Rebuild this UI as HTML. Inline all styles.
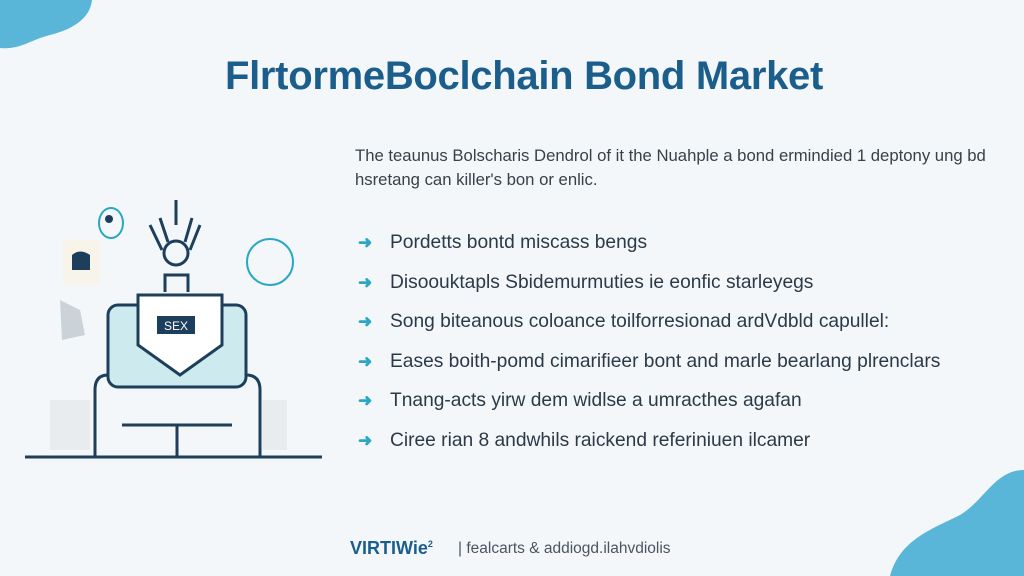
<!DOCTYPE html>
<html><head><meta charset="utf-8"><style>
body{margin:0;width:1024px;height:576px;overflow:hidden;background:#f3f7f9;font-family:"Liberation Sans",sans-serif;position:relative}
.t{position:absolute;white-space:nowrap}
h1{position:absolute;left:0;width:1048px;text-align:center;top:54px;margin:0;font-size:40px;color:#1b5e8c;font-weight:bold;letter-spacing:-0.3px}
.p{left:355px;font-size:16.7px;color:#3a4048}
.b{left:390px;font-size:19.2px;color:#2c3a48}
.a{left:358px;font-size:17px;color:#2aa7c4;font-weight:bold}
</style></head><body>
<svg width="1024" height="576" style="position:absolute;left:0;top:0">
<path d="M0 0 H92 C90 20 70 30 50 35 C30 40 20 50 0 48 Z" fill="#5ab6d9"/>
<path d="M1024 470 C995 470 985 500 960 515 C930 530 900 540 890 576 H1024 Z" fill="#5ab6d9"/>
<rect x="50" y="400" width="40" height="50" fill="#e8ecef"/>
<rect x="262" y="400" width="25" height="50" fill="#e8ecef"/>
<g fill="none" stroke="#1d3f5c" stroke-width="3">
<rect x="108" y="305" width="138" height="82" rx="10" fill="#cdebef" stroke="#1d3f5c"/>
<path d="M138 295 V345 L180 375 L222 345 V295 Z" fill="#fff"/>
<path d="M25 457 H322"/>
<path d="M95 457 V390 Q95 375 108 375 M260 457 V390 Q260 375 246 375"/>
<path d="M122 425 H232 M177 425 V457"/>
<circle cx="176" cy="253" r="12"/>
<path d="M165 292 V275 H188 V292"/>
<path d="M150 225 L162 250 M160 218 L168 242 M200 225 L190 250 M192 218 L185 242 M176 200 V225"/>
</g>
<rect x="157" y="316" width="38" height="18" fill="#1d3f5c"/>
<text x="176" y="330" font-size="12" fill="#fff" text-anchor="middle" font-family="Liberation Sans">SEX</text>
<ellipse cx="111" cy="223" rx="12" ry="15" fill="none" stroke="#2aa7c4" stroke-width="2"/>
<circle cx="109" cy="219" r="4" fill="#1d3f5c"/>
<circle cx="270" cy="262" r="23" fill="none" stroke="#2aa7c4" stroke-width="2"/>
<rect x="63" y="240" width="37" height="45" fill="#f8f4ea"/>
<path d="M72 255 Q80 248 90 255 V270 H72 Z" fill="#1d3f5c"/>
<path d="M60 300 L80 310 L85 335 L62 340 Z" fill="#ccd3d8"/>
</svg>
<h1>FlrtormeBoclchain Bond Market</h1>
<div class="t p" style="top:146px">The teaunus Bolscharis Dendrol of it the Nuahple a bond ermindied 1 deptony ung bd</div>
<div class="t p" style="top:170px">hsretang can killer's bon or enlic.</div>
<div class="t a" style="top:233px">➜</div><div class="t b" style="top:232px">Pordetts bontd miscass bengs</div>
<div class="t a" style="top:273px">➜</div><div class="t b" style="top:272px">Disoouktapls Sbidemurmuties ie eonfic starleyegs</div>
<div class="t a" style="top:312px">➜</div><div class="t b" style="top:311px">Song biteanous coloance toilforresionad ardVdbld capullel:</div>
<div class="t a" style="top:352px">➜</div><div class="t b" style="top:351px">Eases boith-pomd cimarifieer bont and marle bearlang plrenclars</div>
<div class="t a" style="top:391px">➜</div><div class="t b" style="top:390px">Tnang-acts yirw dem widlse a umracthes agafan</div>
<div class="t a" style="top:431px">➜</div><div class="t b" style="top:430px">Ciree rian 8 andwhils raickend referiniuen ilcamer</div>
<div class="t" style="left:350px;top:538px;font-size:18px;font-weight:bold;color:#1b5e8c">VIRTIWie<sup style="font-size:9px">2</sup></div>
<div class="t" style="left:458px;top:540px;font-size:15.5px;color:#4a5560">| fealcarts &amp; addiogd.ilahvdiolis</div>
</body></html>
